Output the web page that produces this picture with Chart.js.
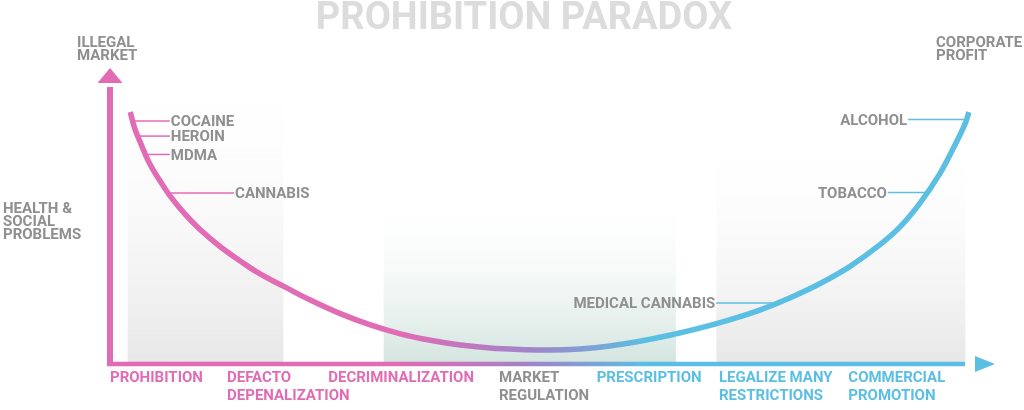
<!DOCTYPE html>
<html>
<head>
<meta charset="utf-8">
<title>Prohibition Paradox</title>
<script src="https://cdn.jsdelivr.net/npm/chart.js@4.4.1/dist/chart.umd.min.js"></script>
<style>
  body { margin: 0; background: #fff; }
  #chart { display: block; }
</style>
</head>
<body>
<canvas id="chart" width="1024" height="410"></canvas>
<script>
// x: policy spectrum (0 = prohibition ... 100 = commercial promotion), y: harm level
const curveX = [2.3, 2.8, 3.4, 4.5, 5.7, 6.8, 8.5, 10.2, 12.5, 14.8, 17.0, 19.7, 22.7, 26.1, 29.5, 33.0, 36.4, 39.8, 43.2, 46.6, 50.0, 53.4, 56.8, 60.2, 63.6, 67.0, 70.5, 73.9, 77.3, 80.7, 84.1, 87.5, 89.8, 92.0, 94.3, 96.0, 97.2, 97.6];
const curveY = [85.1, 79.7, 75.2, 67.7, 61.8, 56.9, 50.7, 45.5, 39.7, 34.8, 30.5, 26.3, 21.7, 17.1, 13.3, 10.2, 8.0, 6.4, 5.4, 4.9, 4.7, 5.1, 6.1, 7.7, 9.7, 12.1, 15.0, 18.3, 22.4, 27.2, 33.0, 40.3, 46.4, 54.2, 64.3, 73.9, 81.4, 85.1];

const stages = [['PROHIBITION'], ['DEFACTO', 'DEPENALIZATION'], ['DECRIMINALIZATION'], ['MARKET', 'REGULATION'], ['PRESCRIPTION'], ['LEGALIZE MANY', 'RESTRICTIONS'], ['COMMERCIAL', 'PROMOTION']];
const stageX = [0, 13.3, 24.8, 44.2, 55.3, 69.2, 83.9];

const drugs = ['COCAINE', 'HEROIN', 'MDMA', 'CANNABIS', 'ALCOHOL', 'TOBACCO', 'MEDICAL CANNABIS'];
const drugX = [2.6, 3.2, 4.1, 6.6, 97.3, 92.9, 75.6];
const drugY = [82.1, 77.0, 70.8, 57.8, 82.6, 57.9, 20.6];
const calloutTo = [6.8, 6.8, 6.8, 14.1, 90.7, 88.4, 68.9];

const bandFrom = [2.0, 31.1, 68.9];
const bandTo = [19.7, 64.3, 97.2];

const PINK = '#e16bb4', PURPLE = '#a084c9', BLUE = '#5bbfe3', GREY = '#8f8f8f';
const FONT = 'bold 15px Roboto';

function spectrum(ctx, a) {
  const g = ctx.createLinearGradient(a.left, 0, a.right, 0);
  g.addColorStop(0, PINK);
  g.addColorStop(0.33, PINK);
  g.addColorStop(0.48, PURPLE);
  g.addColorStop(0.61, BLUE);
  g.addColorStop(1, BLUE);
  return g;
}

const bandStyle = [
  { top: 102, color: '#e7e7e7' },
  { top: 59, color: '#d3e4df' },
  { top: 80, color: '#e7e7e7' }
];

// text is placed by cap centre; alphabetic baseline sits ~5px below it at 15px
function lines(ctx, text, x, y, step) {
  text.forEach((t, i) => ctx.fillText(t, x, y + 5.3 + i * step));
}

const paradox = {
  id: 'paradox',
  beforeDatasetsDraw(chart) {
    const { ctx, chartArea: a, scales: { x, y } } = chart;
    ctx.save();

    // shaded stage bands
    bandFrom.forEach((from, i) => {
      const x0 = x.getPixelForValue(from), x1 = x.getPixelForValue(bandTo[i]);
      const yb = y.getPixelForValue(0), yt = y.getPixelForValue(bandStyle[i].top);
      const g = ctx.createLinearGradient(0, yb, 0, yt);
      g.addColorStop(0, bandStyle[i].color);
      g.addColorStop(1, 'rgba(255,255,255,0)');
      ctx.fillStyle = g;
      ctx.fillRect(x0, yt, x1 - x0, yb - yt);
    });

    // axes with arrows
    const ax = x.getPixelForValue(0), ay = y.getPixelForValue(0);
    ctx.strokeStyle = PINK;
    ctx.lineWidth = 6;
    ctx.beginPath();
    ctx.moveTo(ax, ay + 2);
    ctx.lineTo(ax, a.top + 19);
    ctx.stroke();
    ctx.fillStyle = PINK;
    ctx.beginPath();
    ctx.moveTo(ax, a.top);
    ctx.lineTo(ax - 12.5, a.top + 15);
    ctx.lineTo(ax + 12.5, a.top + 15);
    ctx.fill();

    ctx.strokeStyle = spectrum(ctx, a);
    ctx.lineWidth = 4.5;
    ctx.beginPath();
    ctx.moveTo(ax - 3, ay);
    ctx.lineTo(a.right - 25, ay);
    ctx.stroke();
    ctx.fillStyle = BLUE;
    ctx.beginPath();
    ctx.moveTo(a.right + 5, ay);
    ctx.lineTo(a.right - 15, ay - 8);
    ctx.lineTo(a.right - 15, ay + 8);
    ctx.fill();

    // callout leaders + names
    ctx.font = FONT;
    ctx.textBaseline = 'alphabetic';
    drugs.forEach((name, i) => {
      const px = x.getPixelForValue(drugX[i]), py = y.getPixelForValue(drugY[i]);
      const ex = x.getPixelForValue(calloutTo[i]);
      const right = ex > px;
      ctx.strokeStyle = drugX[i] < 50 ? PINK : BLUE;
      ctx.lineWidth = 1.5;
      ctx.beginPath();
      ctx.moveTo(px, py);
      ctx.lineTo(ex, py);
      ctx.stroke();
      ctx.fillStyle = GREY;
      ctx.textAlign = right ? 'left' : 'right';
      ctx.fillText(name, ex + (right ? 1 : -1), py + 5.3);
    });

    // title + side captions
    ctx.textAlign = 'left';
    ctx.fillStyle = GREY;
    lines(ctx, ['ILLEGAL', 'MARKET'], 77, 41.5, 13.5);
    lines(ctx, ['CORPORATE', 'PROFIT'], 936, 41.5, 13.5);
    lines(ctx, ['HEALTH &', 'SOCIAL', 'PROBLEMS'], 3, 207.5, 13.3);

    ctx.textAlign = 'center';
    ctx.fillStyle = '#dcdcdc';
    ctx.font = 'bold 38px Roboto';
    ctx.fillText('PROHIBITION PARADOX', 524, 28.5);
    ctx.restore();
  }
};

new Chart(document.getElementById('chart').getContext('2d'), {
  type: 'line',
  data: {
    datasets: [{
      data: curveX.map((v, i) => ({ x: v, y: curveY[i] })),
      borderColor: (c) => c.chart.chartArea ? spectrum(c.chart.ctx, c.chart.chartArea) : PINK,
      borderWidth: 5.5,
      borderCapStyle: 'butt',
      borderJoinStyle: 'round',
      pointRadius: 0,
      tension: 0.4,
      fill: false
    }]
  },
  options: {
    responsive: false,
    animation: false,
    events: [],
    layout: { padding: { top: 68, left: 110, right: 34, bottom: 0 } },
    plugins: { legend: { display: false }, tooltip: { enabled: false }, title: { display: false } },
    scales: {
      x: {
        type: 'linear',
        min: 0,
        max: 100,
        grid: { display: false, drawTicks: false },
        border: { display: false },
        afterBuildTicks: (s) => { s.ticks = stageX.map(v => ({ value: v })); },
        ticks: {
          autoSkip: false,
          maxRotation: 0,
          minRotation: 0,
          align: 'start',
          padding: 5,
          font: { family: 'Roboto', weight: 'bold', size: 15, lineHeight: 1.2 },
          color: (c) => c.index < 3 ? PINK : (c.index === 3 ? GREY : BLUE),
          callback: (v, i) => stages[i]
        }
      },
      y: { display: false, min: 0, max: 100 }
    }
  },
  plugins: [paradox]
});
</script>
</body>
</html>
